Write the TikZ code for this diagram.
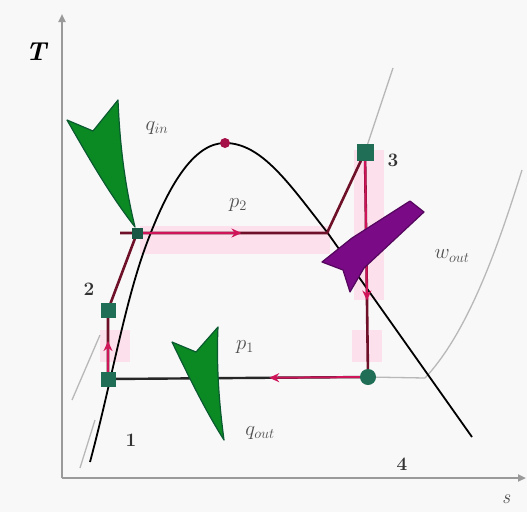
\documentclass[tikz,border=0pt]{standalone}
\usetikzlibrary{arrows.meta,calc}
\definecolor{bgc}{HTML}{F8F8F8}
\definecolor{axisgray}{HTML}{9A9A9A}
\definecolor{lightgray}{HTML}{B8B8B8}
\definecolor{dred}{HTML}{6E1028}
\definecolor{arrred}{HTML}{D0145A}
\definecolor{pinkbg}{HTML}{FCE0EC}
\definecolor{mkgreen}{HTML}{1F6E55}
\definecolor{qgreen}{HTML}{0B8A24}
\definecolor{qgreendk}{HTML}{0A5A30}
\definecolor{wpurple}{HTML}{7A0A86}
\definecolor{lblgray}{HTML}{505050}
\begin{document}
\begin{tikzpicture}[x=1pt,y=-1pt,
  axis/.style={axisgray,line width=2.2pt,-{Triangle[width=7pt,length=8pt]}},
  thin gray/.style={lightgray,line width=1.3pt},
  dome/.style={black,line width=1.8pt},
  proc/.style={dred,line width=2.6pt},
  procdk/.style={black!85,line width=2.4pt},
  redtip/.style={arrred,line width=2pt,-{Stealth[length=10pt,width=9pt]}},
  sqmark/.style={fill=mkgreen,draw=none,minimum size=15pt,inner sep=0pt,rectangle},
  cmark/.style={fill=mkgreen,draw=none,minimum size=16pt,inner sep=0pt,circle},
  numlbl/.style={font=\fontsize{19}{19}\selectfont\bfseries,text=black!80},
  plbl/.style={font=\fontsize{20}{20}\selectfont\itshape,text=lblgray},
  bigarrow/.style={line join=round,line width=1.2pt}
]
\useasboundingbox (0,0) rectangle (527,512);
\fill[bgc] (0,0) rectangle (527,512);

% pink highlight bands
\fill[pinkbg] (140,226) rectangle (330,254);
\fill[pinkbg] (354,150) rectangle (384,300);
\fill[pinkbg] (352,330) rectangle (382,362);
\fill[pinkbg] (100,330) rectangle (130,362);

% axes
\coordinate (O) at (62,478);
\coordinate (Ttop) at (62,14);
\coordinate (Send) at (526,478);
\draw[axis] (O) -- (Ttop);
\draw[axis] (O) -- (Send);
\node[font=\fontsize{26}{26}\selectfont\bfseries\itshape] (Tl) at (36,52) {T};
\node[plbl,text=black!70] (sl) at (506,499) {s};

% state points
\coordinate (p1) at (108,379);
\coordinate (p2) at (108,310);
\coordinate (pa) at (137,233);
\coordinate (pb) at (327,233);
\coordinate (p3) at (365,152);
\coordinate (p4) at (368,377);
\coordinate (top) at (225,143);

% thin gray isobars
\coordinate (g1) at (393,68);
\draw[thin gray] (p3) -- (g1);
\coordinate (g2s) at (425,378);
\coordinate (g2e) at (522,170);
\draw[thin gray] (g2s) .. controls (470,330) and (500,240) .. (g2e);
\draw[thin gray] (p4) -- (g2s);
\coordinate (g3s) at (72,400);
\coordinate (g3e) at (100,335);
\draw[thin gray] (g3s) -- (g3e);
\coordinate (g4s) at (80,468);
\coordinate (g4e) at (95,420);
\draw[thin gray] (g4s) -- (g4e);

% saturation dome
\draw[dome] (90,462) .. controls (112,380) and (125,300) .. (148,240)
  .. controls (170,182) and (195,143) .. (225,143)
  .. controls (262,143) and (290,185) .. (327,232)
  -- (472,437);

% process lines
\draw[proc] (p1) -- (p2) -- (pa);
\draw[proc] (120,233) -- (pb) -- (p3);
\draw[proc] (p3) -- (p4);
\draw[procdk] (p4) -- (p1);

% direction arrows
\draw[redtip] (pa) -- ($(pa)!0.55!(pb)$);
\draw[redtip] (p3) -- ($(p3)!0.66!(p4)$);
\draw[redtip] (p4) -- ($(p4)!0.38!(p1)$);
\draw[redtip] (p1) -- ($(p1)!0.55!(p2)$);

% heat / work arrows
\draw[bigarrow,qgreendk,fill=qgreen] (67,120) -- (93,131) -- (118,100) .. controls (120,150) and (126,190) .. (135,227) .. controls (110,195) and (90,160) .. cycle;
\draw[bigarrow,qgreendk,fill=qgreen] (172,342) -- (196,352) -- (218,327) .. controls (216,370) and (220,410) .. (224,440) .. controls (205,410) and (188,375) .. cycle;
\draw[bigarrow,wpurple!70!black,fill=wpurple] (322,262) -- (352,238) -- (410,201) -- (424,212) -- (364,268) -- (350,292) -- (343,270) -- cycle;

% markers
\node[sqmark] (n1) at (p1) {};
\node[sqmark] (n2) at (p2) {};
\node[sqmark,minimum size=11pt,fill=mkgreen!80!black] (na) at (pa) {};
\node[sqmark,minimum size=17pt] (n3) at (p3) {};
\node[cmark] (n4) at (p4) {};
\node[circle,fill=arrred!80!black,minimum size=10pt,inner sep=0pt] (ntop) at (top) {};

% labels
\node[numlbl] (l1) at (131,440) {1};
\node[numlbl] (l2) at (89,289) {2};
\node[numlbl] (l3) at (393,160) {3};
\node[numlbl] (l4) at (402,464) {4};
\node[plbl] (lp2) at (238,205) {$p_2$};
\node[plbl] (lp1) at (245,347) {$p_1$};
\node[plbl] (lqin) at (157,128) {$q_{in}$};
\node[plbl] (lqout) at (260,433) {$q_{out}$};
\node[plbl] (lwout) at (452,256) {$w_{out}$};
\end{tikzpicture}
\end{document}
